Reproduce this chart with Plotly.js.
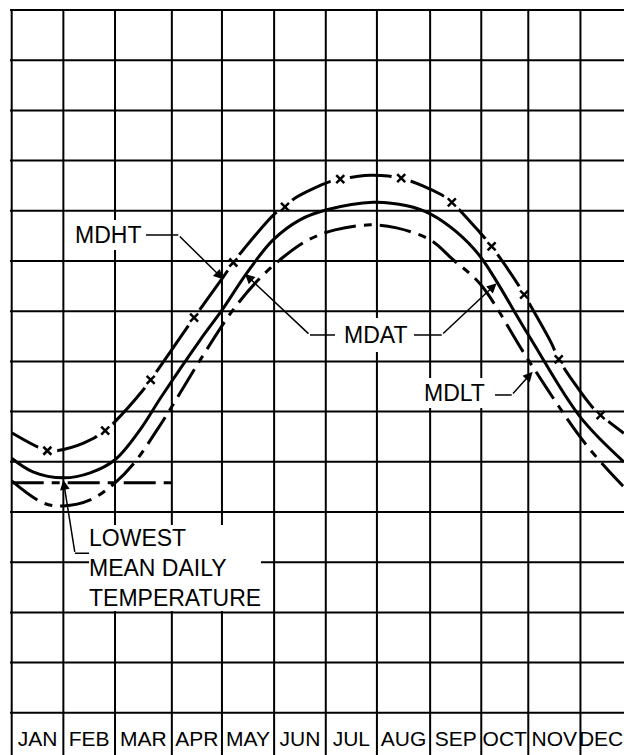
<!DOCTYPE html>
<html>
<head>
<meta charset="utf-8">
<script src="https://cdn.plot.ly/plotly-3.0.1.min.js"></script>
<style>
html,body{margin:0;padding:0;background:#fff;overflow:hidden;}
#chart{width:624px;height:755px;}
</style>
</head>
<body>
<div id="chart"></div>
<script>
// ---- data (x in grid columns = months, y in grid rows) ----
const monthLabels = ['JAN','FEB','MAR','APR','MAY','JUN','JUL','AUG','SEP','OCT','NOV','DEC'];
const monthEdges = [0, 1, 2, 3.1, 4.07, 5.08, 6.08, 7.07, 8.1, 9.09, 10, 11.01, 11.81];
const rowLines = [0,1,2,3,4,5,6,7,8,9,10,11,12,13,14];

// mean daily average temperature (solid)
const mdatX = [0, 0.41, 1.0, 1.52, 2.0, 2.48, 2.9, 3.65, 4.07, 4.55, 5.06, 5.58, 6.1, 7.0, 7.65, 8.1, 8.61, 9.07, 10.0, 11.0, 11.85];
const mdatY = [5.07, 4.80, 4.68, 4.78, 5.04, 5.63, 6.30, 7.43, 8.02, 8.76, 9.42, 9.82, 10.02, 10.17, 10.10, 9.94, 9.58, 9.09, 7.53, 5.90, 5.00];

// mean daily high temperature (dashed with x marks)
const mdhtX = [0, 0.69, 0.87, 1.39, 1.81, 2.0, 2.52, 2.69, 3.53, 4.10, 4.29, 4.48, 5.10, 5.29, 5.48, 6.16, 6.36, 6.94, 7.54, 8.32, 8.52, 9.07, 9.29, 9.81, 9.92, 10.45, 10.59, 11.23, 11.40, 11.85];
const mdhtY = [5.58, 5.22, 5.22, 5.37, 5.62, 5.80, 6.40, 6.63, 7.87, 8.69, 8.97, 9.22, 9.95, 10.08, 10.25, 10.58, 10.63, 10.71, 10.65, 10.32, 10.17, 9.56, 9.29, 8.52, 8.33, 7.36, 7.04, 6.10, 5.93, 5.57];
const mdhtMarkX = [0.69, 1.81, 2.69, 3.53, 4.29, 5.29, 6.36, 7.54, 8.52, 9.29, 9.92, 10.59, 11.40];
const mdhtMarkY = [5.22, 5.62, 6.63, 7.87, 8.97, 10.08, 10.63, 10.65, 10.17, 9.29, 8.33, 7.04, 5.93];

// mean daily low temperature (dash-dot)
const mdltX = [0, 0.61, 1.0, 1.52, 2.0, 2.39, 2.81, 3.10, 3.65, 4.26, 4.77, 5.26, 5.74, 6.26, 6.94, 7.45, 8.10, 8.55, 9.07, 10.0, 11.0, 11.52, 11.85];
const mdltY = [4.62, 4.18, 4.12, 4.24, 4.58, 5.00, 5.63, 6.10, 7.03, 7.99, 8.62, 9.08, 9.42, 9.62, 9.72, 9.66, 9.42, 9.02, 8.54, 7.03, 5.50, 4.86, 4.50];

// lowest mean daily temperature reference line
const lowestX = [0, 3.13];
const lowestY = [4.58, 4.58];

// ---- chart ----
const FONT = 'Liberation Sans, Arial, Helvetica, sans-serif';
const monthCenters = monthLabels.map((m, i) => (monthEdges[i] + monthEdges[i + 1]) / 2);
const DASHDOT = '32px,8px,8px,8px';

const traces = [
  {x: mdhtX, y: mdhtY, mode: 'lines', line: {color: '#000', width: 3, shape: 'spline'}, hoverinfo: 'skip'},
  {x: mdhtMarkX, y: mdhtMarkY, mode: 'markers', marker: {symbol: 'circle', size: 20, color: '#fff', line: {width: 0}}, hoverinfo: 'skip'},
  {x: mdatX, y: mdatY, mode: 'lines', line: {color: '#000', width: 3, shape: 'spline'}, hoverinfo: 'skip'},
  {x: mdltX, y: mdltY, mode: 'lines', line: {color: '#000', width: 3, shape: 'spline', dash: DASHDOT}, hoverinfo: 'skip'},
  {x: lowestX, y: lowestY, mode: 'lines', line: {color: '#000', width: 3, dash: DASHDOT}, hoverinfo: 'skip'},
  {x: mdhtMarkX, y: mdhtMarkY, mode: 'markers', marker: {symbol: 'x-thin', size: 8, color: '#000', line: {width: 2.5, color: '#000'}}, hoverinfo: 'skip'}
];

const shapes = [];
monthEdges.slice(0, 12).forEach(v => shapes.push({type: 'line', xref: 'x', yref: 'paper', x0: v, x1: v, y0: 0, y1: 1, layer: 'above', line: {color: '#000', width: 2}}));
rowLines.forEach(v => shapes.push({type: 'line', xref: 'paper', yref: 'y', x0: 0, x1: 1, y0: v, y1: v, layer: 'above', line: {color: '#000', width: 2}}));

// leader lines (horizontal parts)
const leader = (x0, x1, y) => ({type: 'line', xref: 'x', yref: 'y', x0: x0, x1: x1, y0: y, y1: y, layer: 'above', line: {color: '#000', width: 1.5}});
shapes.push(leader(2.60, 3.225, 9.518));
shapes.push(leader(5.774, 6.258, 7.526));
shapes.push(leader(7.787, 8.324, 7.526));
shapes.push(leader(9.355, 9.679, 6.331));
shapes.push(leader(1.225, 4.516, 3.177));

const label = (text, x, y, extra) => Object.assign({
  text: text, x: x, y: y, xref: 'x', yref: 'y', showarrow: false,
  font: {family: FONT, size: 23, color: '#000'}, bgcolor: '#fff', borderpad: 2, borderwidth: 0
}, extra || {});
const arrow = (tx, ty, hx, hy) => ({
  text: '', x: hx, y: hy, ax: tx, ay: ty, xref: 'x', yref: 'y', axref: 'x', ayref: 'y',
  showarrow: true, arrowhead: 2, arrowsize: 1.3, arrowwidth: 1.5, arrowcolor: '#000', standoff: 0
});

const annotations = [
  label('MDHT', 1.87, 9.518),
  label('MDAT', 7.038, 7.526, {borderpad: 4}),
  label('MDLT', 8.566, 6.361),
  label('LOWEST<br>MEAN DAILY<br>TEMPERATURE', 1.496, 2.894, {xanchor: 'left', align: 'left', borderpad: 0}),
  arrow(3.225, 9.518, 4.096, 8.636),
  arrow(5.774, 7.526, 4.516, 8.741),
  arrow(8.324, 7.526, 9.388, 8.556),
  arrow(9.679, 6.331, 10.085, 6.795),
  arrow(1.225, 3.177, 0.999, 4.637)
];

const layout = {
  width: 624, height: 755,
  margin: {l: 10, r: 0, t: 9, b: 0, pad: 0},
  paper_bgcolor: '#fff', plot_bgcolor: '#fff',
  showlegend: false,
  font: {family: FONT, color: '#000'},
  xaxis: {
    range: [-0.033, 11.853], showgrid: false, zeroline: false, showline: false,
    tickmode: 'array', tickvals: monthCenters, ticktext: monthLabels, tickangle: 0,
    ticks: 'inside', ticklen: 6, tickcolor: 'rgba(0,0,0,0)',
    ticklabelposition: 'inside', ticklabeloverflow: 'allow',
    tickfont: {family: FONT, size: 21, color: '#000'}, fixedrange: true
  },
  yaxis: {
    range: [-0.841, 14.02], showgrid: false, zeroline: false, showline: false,
    showticklabels: false, ticks: '', fixedrange: true
  },
  shapes: shapes,
  annotations: annotations
};

Plotly.newPlot('chart', traces, layout, {staticPlot: true, displayModeBar: false});
</script>
</body>
</html>
